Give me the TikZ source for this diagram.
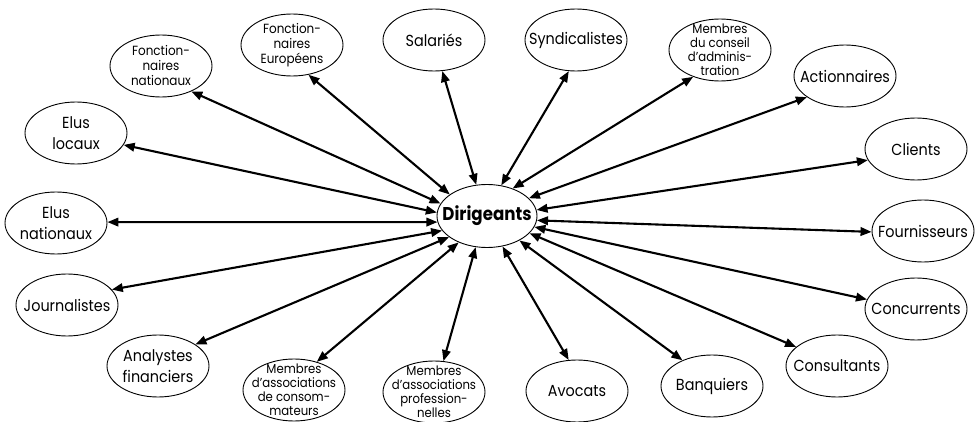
\documentclass[tikz,border=0pt]{standalone}
\usepackage{fontspec}
\setmainfont{Poppins}[FakeStretch=0.9]
\usetikzlibrary{arrows.meta,shapes.geometric}
\newcommand{\apos}{\char39 }
\begin{document}
\begin{tikzpicture}[x=1pt,y=-1pt,
  ell/.style={draw,ellipse,line width=0.9pt,minimum width=102pt,minimum height=62pt,inner sep=0pt},
  lab/.style={align=center,font=\fontsize{16}{21}\selectfont,inner sep=0pt},
  labs/.style={align=center,font=\fontsize{13.3}{15}\selectfont,inner sep=0pt},
  labt/.style={align=center,font=\fontsize{13}{14}\selectfont,inner sep=0pt},
  labd/.style={align=center,font=\fontsize{18.5}{20}\selectfont\bfseries,inner sep=0pt},
  link/.style={line width=2.1pt,{Triangle[length=11pt,width=8.5pt]}-{Triangle[length=11pt,width=8.5pt]}}
]
\useasboundingbox (0,0) rectangle (978,422);
% ellipses
\node[ell,minimum width=100pt,minimum height=63pt] (dir) at (487,216) {};
\node[ell] (fnat) at (161,66) {};
\node[ell] (feur) at (292,45) {};
\node[ell] (elo) at (76,133) {};
\node[ell] (ena) at (56,223) {};
\node[ell] (jou) at (67,305) {};
\node[ell] (ana) at (158,366) {};
\node[ell] (mac) at (294,390) {};
\node[ell] (map) at (434,392) {};
\node[ell] (avo) at (577,391) {};
\node[ell] (ban) at (712,386) {};
\node[ell] (con) at (837,366) {};
\node[ell] (cnc) at (916,309) {};
\node[ell] (fou) at (923,231) {};
\node[ell] (cli) at (916,149) {};
\node[ell] (act) at (845,76) {};
\node[ell] (mca) at (720,50) {};
\node[ell] (syn) at (576,40) {};
\node[ell] (sal) at (434,40) {};
% texts
\node[labd] (tdir) at (dir) {Dirigeants};
\node[labs] (tfnat) at (fnat) {Fonction-\\naires\\nationaux};
\node[labs] (tfeur) at (feur) {Fonction-\\naires\\Européens};
\node[lab] (telo) at (elo) {Elus\\locaux};
\node[lab] (tena) at (ena) {Elus\\nationaux};
\node[lab] (tjou) at (jou) {Journalistes};
\node[lab] (tana) at (ana) {Analystes\\financiers};
\node[labt] (tmac) at (mac) {Membres\\d\apos associations\\de consom-\\mateurs};
\node[labt] (tmap) at (map) {Membres\\d\apos associations\\profession-\\nelles};
\node[lab] (tavo) at (avo) {Avocats};
\node[lab] (tban) at (ban) {Banquiers};
\node[lab] (tcon) at (con) {Consultants};
\node[lab] (tcnc) at (cnc) {Concurrents};
\node[lab] (tfou) at (fou) {Fournisseurs};
\node[lab] (tcli) at (cli) {Clients};
\node[lab] (tact) at (act) {Actionnaires};
\node[labt] (tmca) at (mca) {Membres\\du conseil\\d\apos adminis-\\tration};
\node[lab] (tsyn) at (syn) {Syndicalistes};
\node[lab] (tsal) at (sal) {Salariés};
% connectors
\draw[link] (fnat.-40) -- (dir.165);
\draw[link] (feur.-61) -- (dir.150);
\draw[link] (elo.-14) -- (dir.176);
\draw[link] (ena.1) -- (dir.187);
\draw[link] (jou.19) -- (dir.198);
\draw[link] (ana.30) -- (dir.209);
\draw[link] (mac.51) -- (dir.223);
\draw[link] (map.73) -- (dir.250);
\draw[link] (avo.105) -- (dir.297);
\draw[link] (ban.139) -- (dir.323);
\draw[link] (con.155) -- (dir.338);
\draw[link] (cnc.169) -- (dir.347);
\draw[link] (fou.181) -- (dir.355);
\draw[link] (cli.193) -- (dir.7);
\draw[link] (act.209) -- (dir.23);
\draw[link] (mca.225) -- (dir.47);
\draw[link] (syn.257) -- (dir.65);
\draw[link] (sal.285) -- (dir.109);
\end{tikzpicture}
\end{document}
